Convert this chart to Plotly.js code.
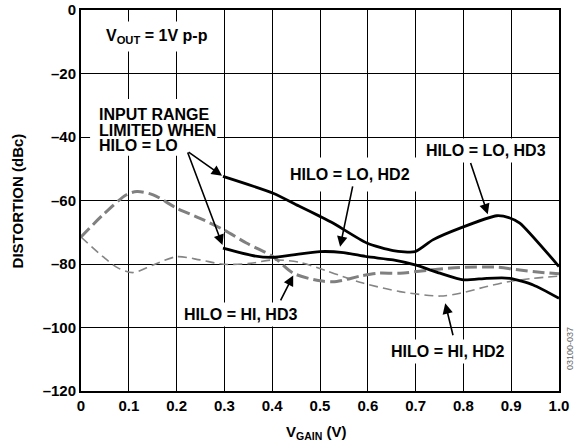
<!DOCTYPE html>
<html><head><meta charset="utf-8">
<script src="https://cdn.plot.ly/plotly-3.0.1.min.js"></script>
<style>html,body{margin:0;padding:0;background:#fff}#chart{width:574px;height:446px}</style>
</head><body><div id="chart"></div>
<script>
// Tick values / labels
const xTickVals = [0, 0.1, 0.2, 0.3, 0.4, 0.5, 0.6, 0.7, 0.8, 0.9, 1.0];
const xTickText = ['0', '0.1', '0.2', '0.3', '0.4', '0.5', '0.6', '0.7', '0.8', '0.9', '1.0'];
const yTickVals = [0, -20, -40, -60, -80, -100, -120];
const yTickText = ['0', '\u201320', '\u201340', '\u201360', '\u201380', '\u2013100', '\u2013120'];

// HILO = HI, HD3 (thick gray dashed)
const vgainHiHd3 = [0, 0.046, 0.095, 0.117, 0.151, 0.200, 0.249, 0.298, 0.346, 0.402, 0.444, 0.500, 0.535, 0.584, 0.620, 0.667, 0.736, 0.793, 0.870, 0.918, 0.960, 1.0];
const distHiHd3  = [-71.5, -64.5, -58.2, -57.2, -58.2, -62.4, -65.6, -69.2, -73.4, -77.7, -82.9, -85.3, -85.5, -83.8, -82.9, -82.9, -81.8, -81.1, -81.0, -81.9, -82.6, -83.1];

// HILO = HI, HD2 (thin gray dashed)
const vgainHiHd2 = [0, 0.046, 0.078, 0.109, 0.151, 0.200, 0.249, 0.298, 0.354, 0.402, 0.458, 0.514, 0.549, 0.590, 0.667, 0.751, 0.793, 0.849, 0.897, 0.946, 1.0];
const distHiHd2  = [-71.5, -77.7, -81.3, -82.7, -80.3, -77.7, -78.7, -80.1, -79.8, -78.7, -79.5, -82.2, -84.0, -86.0, -88.7, -90.1, -89.2, -87.1, -85.5, -84.5, -83.8];

// HILO = LO, HD2 (thick black, lower)
const vgainLoHd2 = [0.297, 0.361, 0.402, 0.444, 0.500, 0.549, 0.598, 0.653, 0.699, 0.751, 0.800, 0.849, 0.897, 0.946, 1.0];
const distLoHd2  = [-75.0, -77.4, -77.9, -77.1, -76.1, -76.4, -77.7, -78.7, -80.3, -82.9, -85.0, -84.5, -84.5, -86.6, -90.8];

// HILO = LO, HD3 (thick black, upper)
const vgainLoHd3 = [0.297, 0.402, 0.458, 0.500, 0.527, 0.598, 0.653, 0.699, 0.736, 0.793, 0.870, 0.897, 0.918, 1.0];
const distLoHd3  = [-52.4, -57.7, -61.9, -65.0, -67.1, -73.4, -75.8, -76.1, -72.4, -68.7, -64.8, -65.5, -67.1, -80.8];

const FONT = 'Liberation Sans, Arial, Helvetica, sans-serif';

const traces = [
  {x: vgainHiHd2, y: distHiHd2, mode: 'lines', line: {color: '#858585', width: 1.6, dash: '9px,5px', shape: 'spline', smoothing: 0.8}, name: 'HILO = HI, HD2'},
  {x: vgainHiHd3, y: distHiHd3, mode: 'lines', line: {color: '#808080', width: 3, dash: '12px,5px', shape: 'spline', smoothing: 0.8}, name: 'HILO = HI, HD3'},
  {x: vgainLoHd2, y: distLoHd2, mode: 'lines', line: {color: '#000000', width: 2.8, shape: 'spline', smoothing: 0.6}, name: 'HILO = LO, HD2'},
  {x: vgainLoHd3, y: distLoHd3, mode: 'lines', line: {color: '#000000', width: 2.8, shape: 'spline', smoothing: 0.6}, name: 'HILO = LO, HD3'}
];

const labelFont = {family: FONT, size: 16, color: '#000', weight: 'bold'};
function label(x, y, text, pad, xanchor, bg) {
  return {x: x, y: y, xref: 'x', yref: 'y', text: text, showarrow: false, font: labelFont,
          bgcolor: bg === false ? 'rgba(0,0,0,0)' : '#fff', borderpad: pad || 3, xanchor: xanchor || 'center', yanchor: 'middle'};
}
function arrow(x0, y0, x1, y1) {
  return {x: x1, y: y1, ax: x0, ay: y0, xref: 'x', yref: 'y', axref: 'x', ayref: 'y', text: '',
          showarrow: true, arrowhead: 2, arrowsize: 1.3, arrowwidth: 1.6, arrowcolor: '#000', standoff: 0, startstandoff: 0};
}

const annotations = [
  label(0.040, -8.2, 'V<sub>OUT</sub> = 1V p-p', 5, 'left'),
  label(0.029, -33.0, 'INPUT RANGE', 0, 'left', false),
  label(0.029, -37.9, 'LIMITED WHEN', 0, 'left', false),
  label(0.029, -42.7, 'HILO = LO', 0, 'left', false),
  label(0.563, -51.9, 'HILO = LO, HD2', 8),
  label(0.847, -44.2, 'HILO = LO, HD3', 3),
  label(0.333, -96.0, 'HILO = HI, HD3', 3),
  label(0.766, -107.6, 'HILO = HI, HD2', 3),
  arrow(0.222, -44.4, 0.295, -52.2),
  arrow(0.222, -44.4, 0.296, -74.0),
  arrow(0.569, -55.1, 0.542, -74.6),
  arrow(0.814, -47.7, 0.851, -64.3),
  arrow(0.416, -91.9, 0.444, -83.6),
  arrow(0.779, -102.9, 0.762, -92.4),
  {x: -0.132, y: 0.5, xref: 'paper', yref: 'paper', text: 'DISTORTION (dBc)', textangle: -90, showarrow: false,
   font: {family: FONT, size: 15, color: '#000', weight: 'bold'}, xanchor: 'center', yanchor: 'middle'},
  {x: 0.492, y: -0.108, xref: 'paper', yref: 'paper', text: 'V<sub>GAIN</sub> (V)', showarrow: false,
   font: {family: FONT, size: 15, color: '#000', weight: 'bold'}, xanchor: 'center', yanchor: 'middle'},
  {x: 1.023, y: 0.113, xref: 'paper', yref: 'paper', text: '03100-037', textangle: -90, showarrow: false,
   font: {family: FONT, size: 9, color: '#666'}, xanchor: 'center', yanchor: 'middle'}
];

// white backing behind the multi-line note (hides grid lines, stays under the curves)
const shapes = [
  {type: 'rect', xref: 'x', yref: 'y', x0: 0.019, x1: 0.285, y0: -45.9, y1: -28.0,
   fillcolor: '#fff', line: {width: 0}, layer: 'between'}
];

const layout = {
  width: 574, height: 446,
  margin: {l: 81, r: 15, t: 10, b: 55, pad: 0},
  paper_bgcolor: '#fff', plot_bgcolor: '#fff',
  showlegend: false,
  font: {family: FONT, color: '#000'},
  xaxis: {range: [0, 1], tickvals: xTickVals, ticktext: xTickText, showgrid: true, gridcolor: '#000', gridwidth: 1,
          zeroline: false, showline: true, mirror: true, linecolor: '#000', linewidth: 2, ticks: '',
          tickfont: {family: FONT, size: 15, color: '#000', weight: 'bold'}, fixedrange: true},
  yaxis: {range: [-120, 0], tickvals: yTickVals, ticktext: yTickText, showgrid: true, gridcolor: '#000', gridwidth: 1,
          zeroline: false, showline: true, mirror: true, linecolor: '#000', linewidth: 2, ticks: '',
          tickfont: {family: FONT, size: 15, color: '#000', weight: 'bold'}, fixedrange: true},
  shapes: shapes,
  annotations: annotations
};

Plotly.newPlot('chart', traces, layout, {staticPlot: true, displayModeBar: false});
</script>
</body></html>
